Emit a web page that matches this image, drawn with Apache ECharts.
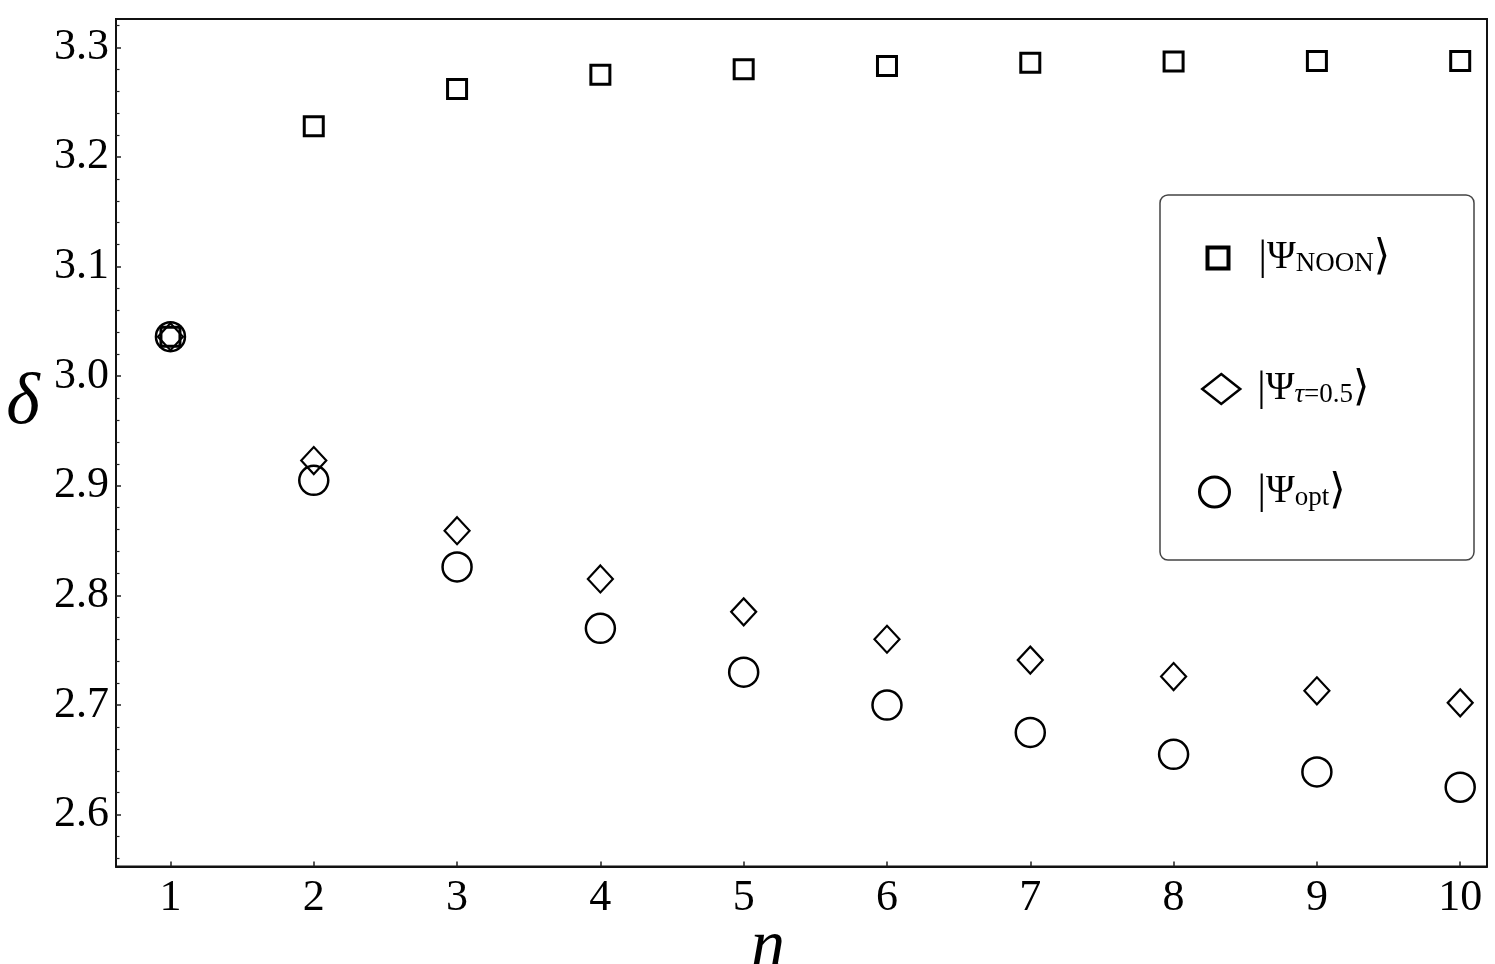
<!DOCTYPE html>
<html>
<head>
<meta charset="utf-8">
<title>delta vs n</title>
<script src="https://cdn.jsdelivr.net/npm/echarts@6/dist/echarts.min.js"></script>
<style>
  html, body { margin: 0; padding: 0; background: #fff; }
  #chart { width: 1495px; height: 964px; }
</style>
</head>
<body>
<div id="chart"></div>
<script>
// photon number n
const nValues = [1, 2, 3, 4, 5, 6, 7, 8, 9, 10];
// delta for each state
const noonValues = [3.036, 3.228, 3.262, 3.275, 3.280, 3.283, 3.286, 3.287, 3.2875, 3.2875];
const tauValues = [3.036, 2.923, 2.859, 2.815, 2.785, 2.760, 2.741, 2.726, 2.713, 2.702];
const optValues = [3.036, 2.905, 2.826, 2.770, 2.730, 2.700, 2.675, 2.655, 2.639, 2.625];

const xTicks = [1, 2, 3, 4, 5, 6, 7, 8, 9, 10];
const yTicks = [2.6, 2.7, 2.8, 2.9, 3.0, 3.1, 3.2, 3.3];

// minor ticks every 0.02 (between the labelled ones)
const yMinorTicks = [];
for (let i = 128; i <= 166; i++) {
    if (i % 5 !== 0) yMinorTicks.push(+(i * 0.02).toFixed(2));
}

const serif = '"Liberation Serif", "DejaVu Serif", serif';

const pairs = (ys) => nValues.map((n, i) => [n, ys[i]]);

const legendRich = {
    g1: { width: 25 },
    g2: { width: 12 },
    g3: { width: 23 },
    v: { fontFamily: serif, fontSize: 42, lineHeight: 52, color: '#000', verticalAlign: 'middle' },
    p: { fontFamily: serif, fontSize: 39, lineHeight: 52, color: '#000', verticalAlign: 'middle' },
    s: { fontFamily: serif, fontSize: 27, lineHeight: 28, color: '#000', verticalAlign: 'bottom', padding: [0, 0, 7, 0] },
    t: { fontFamily: serif, fontSize: 27, lineHeight: 28, color: '#000', verticalAlign: 'bottom', fontStyle: 'italic', padding: [0, 0, 7, 0] }
};

const legendLabels = {
    NOON: '{g1|}{v|\u007C}{p|\u03A8}{s|NOON}{v|\u27E9}',
    tau: '{g2|}{v|\u007C}{p|\u03A8}{t|\u03C4}{s|=0.5}{v|\u27E9}',
    opt: '{g3|}{v|\u007C}{p|\u03A8}{s|opt}{v|\u27E9}'
};

function makeLegend(name, left, top, size, bw) {
    return {
        data: [name],
        left: left,
        top: top,
        padding: 0,
        itemWidth: size[0],
        itemHeight: size[1],
        selectedMode: false,
        itemStyle: { color: 'rgba(0,0,0,0)', borderColor: '#000', borderWidth: bw, opacity: 1 },
        formatter: (nm) => legendLabels[nm],
        textStyle: { rich: legendRich }
    };
}

const chart = echarts.init(document.getElementById('chart'));

const option = {
    animation: false,
    backgroundColor: '#fff',
    grid: {
        left: 116, top: 19, right: 8, bottom: 97.5,
        outerBoundsMode: 'none',
        containLabel: false,
        show: true, borderColor: '#111', borderWidth: 2
    },
    graphic: [{
        type: 'rect',
        shape: { x: 1160, y: 195, width: 314, height: 365, r: 8 },
        style: { fill: 'rgba(0,0,0,0)', stroke: '#444', lineWidth: 1.5 },
        z: 1
    }, {
        type: 'text',
        x: 23, y: 404,
        style: {
            text: '\u03B4', fontFamily: serif, fontStyle: 'italic', fontSize: 72,
            fill: '#000', align: 'center', verticalAlign: 'middle'
        }
    }, {
        type: 'text',
        x: 768, y: 948,
        style: {
            text: 'n', fontFamily: serif, fontStyle: 'italic', fontSize: 68,
            fill: '#000', align: 'center', verticalAlign: 'middle'
        }
    }],
    legend: [
        makeLegend('NOON', 1205.5, 237, [21, 21], 4),
        makeLegend('tau', 1201, 368, [38, 30], 2.5),
        makeLegend('opt', 1198, 471, [30, 30], 3)
    ],
    xAxis: {
        type: 'value',
        min: 0.62,
        max: 10.187,
        axisLine: { show: true, lineStyle: { color: '#111', width: 2 } },
        axisTick: { show: true, inside: true, length: 5, customValues: xTicks, lineStyle: { color: '#222', width: 1.5 } },
        axisLabel: { customValues: xTicks, fontFamily: serif, fontSize: 44, color: '#000', margin: 10 },
        splitLine: { show: false }
    },
    yAxis: [{
        type: 'value',
        min: 2.5527,
        max: 3.3258,
        axisLine: { show: true, lineStyle: { color: '#111', width: 2 } },
        axisTick: { show: true, inside: true, length: 5, customValues: yTicks, lineStyle: { color: '#222', width: 1.5 } },
        axisLabel: {
            customValues: yTicks, fontFamily: serif, fontSize: 44, color: '#000', margin: 7,
            formatter: (v) => v.toFixed(1)
        },
        splitLine: { show: false }
    }, {
        type: 'value',
        min: 2.5527,
        max: 3.3258,
        position: 'left',
        axisLine: { show: false },
        axisTick: { show: true, inside: true, length: 3.5, customValues: yMinorTicks, lineStyle: { color: '#222', width: 1.2 } },
        axisLabel: { show: false },
        splitLine: { show: false }
    }],
    series: [{
        name: 'NOON',
        type: 'scatter',
        symbol: 'rect',
        symbolSize: 19,
        itemStyle: { color: 'rgba(0,0,0,0)', borderColor: '#000', borderWidth: 3, opacity: 1 },
        data: pairs(noonValues),
        z: 3
    }, {
        name: 'tau',
        type: 'scatter',
        symbol: 'diamond',
        symbolSize: [25, 27],
        itemStyle: { color: 'rgba(0,0,0,0)', borderColor: '#000', borderWidth: 2.2, opacity: 1 },
        data: pairs(tauValues),
        z: 3
    }, {
        name: 'opt',
        type: 'scatter',
        symbol: 'circle',
        symbolSize: 29,
        itemStyle: { color: 'rgba(0,0,0,0)', borderColor: '#000', borderWidth: 2.5, opacity: 1 },
        data: pairs(optValues),
        z: 3
    }]
};

chart.setOption(option);
</script>
</body>
</html>
